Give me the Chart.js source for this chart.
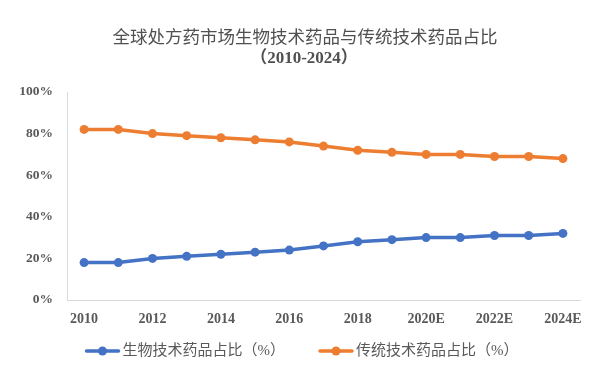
<!DOCTYPE html>
<html><head><meta charset="utf-8">
<script src="https://cdn.jsdelivr.net/npm/chart.js@4"></script>
<style>html,body{margin:0;padding:0;background:#fff}#wrap{width:594px;height:379px}</style>
</head><body><div id="wrap"><canvas id="c" width="594" height="379"></canvas></div>
<script>
const categories = ["2010","2011","2012","2013","2014","2015","2016","2017","2018","2019","2020E","2021E","2022E","2023E","2024E"];
const bioShare = [18,18,20,21,22,23,24,26,28,29,30,30,31,31,32];
const tradShare = [82,82,80,79,78,77,76,74,72,71,70,70,69,69,68];
const seriesNames = ["生物技术药品占比（%）","传统技术药品占比（%）"];
const titleLines = ["全球处方药市场生物技术药品与传统技术药品占比","（2010-2024）"];
const yTicks = [0,20,40,60,80,100];

const colors=["#4472C4","#ED7D31"];
const serif="'Liberation Serif','Noto Sans CJK SC',serif";

const titleLegendPlugin={
  id:'titleLegend',
  afterDraw(chart){
    const g=chart.ctx;
    g.save();
    g.textAlign='center';g.textBaseline='middle';
    g.fillStyle='#505050';
    g.font="17.5px 'Noto Sans CJK SC',sans-serif";
    g.fillText(titleLines[0],305,36);
    g.font="bold 17px 'Liberation Serif','Noto Sans CJK SC',serif";
    g.fillText(titleLines[1],304,59);
    // legend
    g.font="15px "+serif;
    const markerW=34, gapText=3, gapItem=34, y=351;
    const widths=seriesNames.map(t=>g.measureText(t).width);
    const total=widths.reduce((a,w)=>a+markerW+gapText+w,0)+gapItem*(seriesNames.length-1);
    let x=302-total/2;
    g.textAlign='left';
    chart.data.datasets.forEach((d,i)=>{
      g.strokeStyle=d.borderColor;g.lineWidth=3.5;g.lineCap='round';
      g.beginPath();g.moveTo(x+1,y);g.lineTo(x+markerW-1,y);g.stroke();
      g.fillStyle=d.borderColor;g.beginPath();g.arc(x+markerW/2,y,4.5,0,Math.PI*2);g.fill();
      g.fillStyle='#595959';
      g.fillText(d.label,x+markerW+gapText,y);
      x+=markerW+gapText+widths[i]+gapItem;
    });
    g.restore();
  }
};

new Chart(document.getElementById('c'),{
  type:'line',
  data:{labels:categories,datasets:[
    {label:seriesNames[0],data:bioShare,borderColor:colors[0],backgroundColor:colors[0],borderWidth:3.5,pointRadius:4.5,pointHoverRadius:4.5,pointBorderWidth:0,pointStyle:'circle'},
    {label:seriesNames[1],data:tradShare,borderColor:colors[1],backgroundColor:colors[1],borderWidth:3.5,pointRadius:4.5,pointHoverRadius:4.5,pointBorderWidth:0,pointStyle:'circle'}
  ]},
  options:{
    responsive:false,animation:false,
    layout:{padding:{left:0,right:14,top:92,bottom:43}},
    plugins:{
      title:{display:false},
      legend:{display:false},
      tooltip:{enabled:false}
    },
    scales:{
      x:{offset:true,grid:{display:false,drawTicks:false},border:{color:'#d9d9d9',width:1},
        ticks:{color:'#595959',font:{family:serif,size:14,weight:'bold'},maxRotation:0,autoSkip:false,padding:11,
          callback:function(v,i){return i%2===0?categories[i]:'';}},
        afterFit:(s)=>{s.height=36;}},
      y:{min:0,max:100,grid:{display:false,drawTicks:false},border:{color:'#d9d9d9',width:1},
        afterBuildTicks:(s)=>{s.ticks=yTicks.map(v=>({value:v}));},
        ticks:{color:'#595959',font:{family:serif,size:13.5,weight:'bold'},padding:14,callback:(v)=>v+'%'},
        afterFit:(s)=>{s.width=67;}}
    }
  },
  plugins:[titleLegendPlugin]
});
</script></body></html>
